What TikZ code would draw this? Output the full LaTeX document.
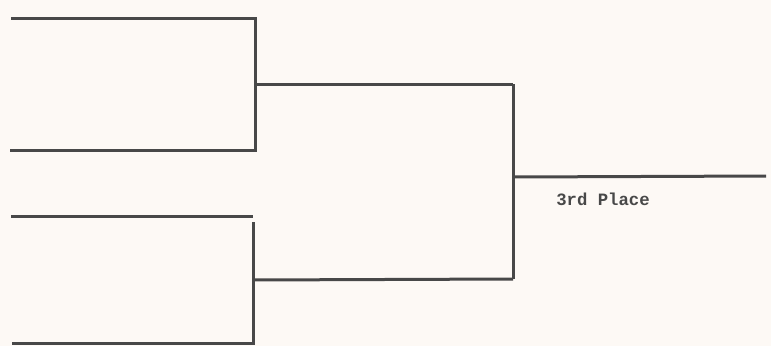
\documentclass[tikz,border=0pt]{standalone}
\usepackage{fontspec}
\newfontfamily\typew{Liberation Mono}
\definecolor{paper}{HTML}{FDF9F5}
\definecolor{ink}{HTML}{484848}
\begin{document}
\begin{tikzpicture}[x=1pt,y=-1pt,
  bline/.style={draw=ink,line width=3pt,line cap=butt,line join=miter},
  lbl/.style={inner sep=0pt,text=ink,font=\typew\bfseries\fontsize{17.3}{19}\selectfont}]
\fill[paper] (0,0) rectangle (771,346);
\useasboundingbox (0,0) rectangle (771,346);
% first-round entries
\coordinate (a1) at (11,18);
\coordinate (a2) at (10,150);
\coordinate (b1) at (11,216);
\coordinate (b2) at (12,343);
% bracket joints
\coordinate (ja1) at (255,18);
\coordinate (ja2) at (255,150);
\coordinate (jam) at (255,84);
\coordinate (jb1) at (253,216);
\coordinate (jb0) at (253,222);
\coordinate (jb2) at (253,343);
\coordinate (jbm) at (253,280);
\coordinate (fa) at (513,84);
\coordinate (fb) at (513,279);
\coordinate (fm) at (513,177);
\coordinate (out) at (766,176);
% upper pair
\draw[bline] (a1) -- (ja1) -- (ja2) -- (a2);
\draw[bline] (jam) -- (fa);
% lower pair
\draw[bline] (b1) -- (jb1);
\draw[bline] (jb0) -- (jb2) -- (b2);
\draw[bline] (jbm) -- (fb);
% final
\draw[bline] (fa) -- (fb);
\draw[bline] (fm) -- (out);
\node[lbl] (place) at (603,199) {3rd Place};
\end{tikzpicture}
\end{document}
